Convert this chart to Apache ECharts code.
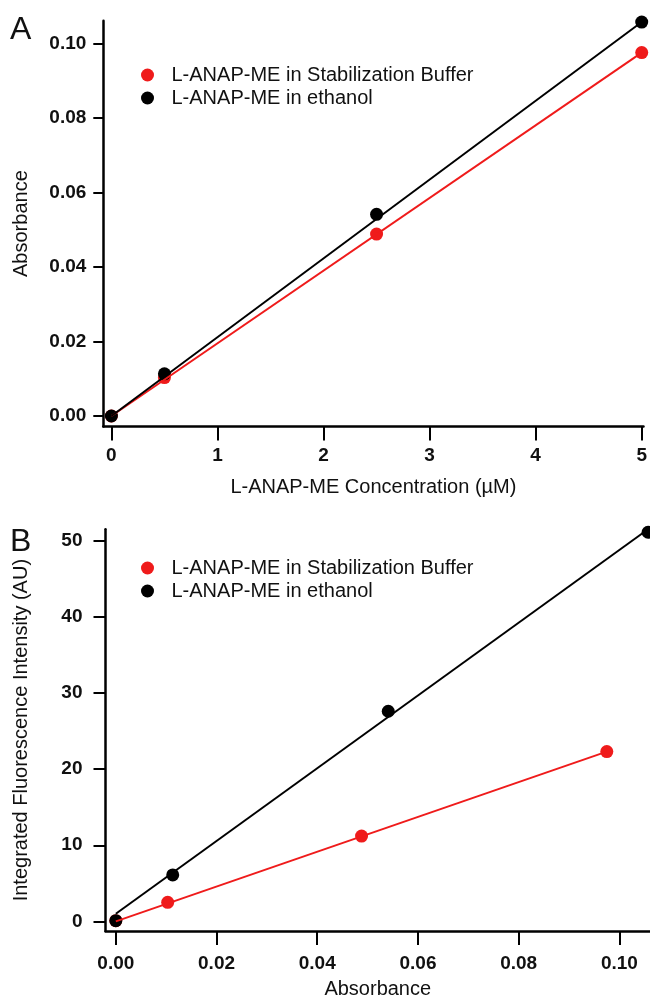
<!DOCTYPE html>
<html>
<head>
<meta charset="utf-8">
<script src="https://cdn.jsdelivr.net/npm/echarts@6/dist/echarts.min.js"></script>
<style>
html,body{margin:0;padding:0;background:#fff;}
#chart{width:650px;height:1000px;}
</style>
</head>
<body>
<div id="chart"></div>
<script>
// ---- Data ----
const seriesNames = ['L-ANAP-ME in Stabilization Buffer', 'L-ANAP-ME in ethanol'];
const concentration = [0, 0.5, 2.5, 5];                 // µM
const absBuffer = [0, 0.0103, 0.0488, 0.0975];          // Absorbance, stabilization buffer
const absEthanol = [0, 0.0113, 0.0541, 0.1057];         // Absorbance, ethanol
const fluorBuffer = [0.1, 2.5, 11.2, 22.3];             // Integrated fluorescence (AU)
const fluorEthanol = [0.1, 6.1, 27.6, 51.1];
// fitted lines (endpoints)
const fitA_bufferX = [0, 5], fitA_bufferY = [0, 0.0975];
const fitA_ethanolX = [0, 5], fitA_ethanolY = [0, 0.1057];
const fitB_bufferX = [0, 0.0975], fitB_bufferY = [0, 22.3];
const fitB_ethanolX = [0, 0.1061], fitB_ethanolY = [1.0, 51.7];
// tick labels
const ticksA_x = [0, 1, 2, 3, 4, 5];
const ticksA_y = [0, 0.02, 0.04, 0.06, 0.08, 0.10];
const ticksB_x = [0, 0.02, 0.04, 0.06, 0.08, 0.10];
const ticksB_y = [0, 10, 20, 30, 40, 50];

const RED = '#ef1b1b';
const BLACK = '#000000';
const FONT = '"Liberation Sans", Arial, sans-serif';

function zip(xs, ys) { return xs.map((x, i) => [x, ys[i]]); }

const tickLabelStyle = { fontFamily: FONT, fontSize: 19, fontWeight: 'bold', color: '#111' };
const nameStyle = { fontFamily: FONT, fontSize: 20, color: '#111' };

function axisBase(extra) {
  return Object.assign({
    type: 'value',
    splitLine: { show: false },
    axisLine: { show: true, onZero: false, lineStyle: { color: '#000', width: 2.5 } },
    nameLocation: 'middle',
    nameTextStyle: nameStyle
  }, extra);
}

const legendBase = {
  data: seriesNames, orient: 'vertical', left: 136, icon: 'circle',
  itemWidth: 38, itemHeight: 13, itemGap: 3, selectedMode: false,
  textStyle: { fontFamily: FONT, fontSize: 20, lineHeight: 20, color: '#111' }
};

const option = {
  animation: false,
  backgroundColor: '#fff',
  grid: [
    { left: 103.3, top: 20.7, width: 546.7, height: 405.8 },
    { left: 105.5, top: 529.3, width: 544.5, height: 404.7 }
  ],
  legend: [
    Object.assign({}, legendBase, { top: 60 }),
    Object.assign({}, legendBase, { top: 553 })
  ],
  xAxis: [
    axisBase({
      gridIndex: 0, min: -0.0764, max: 5.0168,
      name: 'L-ANAP-ME Concentration (µM)', nameGap: 51,
      axisTick: { show: true, inside: false, length: 14, customValues: ticksA_x, lineStyle: { color: '#000', width: 2 } },
      axisLabel: { customValues: ticksA_x, margin: 20, formatter: v => String(Math.round(v)), ...tickLabelStyle }
    }),
    axisBase({
      gridIndex: 1, min: -0.00205, max: 0.10608,
      name: 'Absorbance', nameGap: 48,
      axisTick: { show: true, inside: false, length: 14, customValues: ticksB_x, lineStyle: { color: '#000', width: 2 } },
      axisLabel: { customValues: ticksB_x, margin: 23, formatter: v => v.toFixed(2), ...tickLabelStyle }
    })
  ],
  yAxis: [
    axisBase({
      gridIndex: 0, min: -0.00282, max: 0.10606,
      name: 'Absorbance', nameGap: 72,
      axisTick: { show: true, inside: false, length: 10, customValues: ticksA_y, lineStyle: { color: '#000', width: 2 } },
      axisLabel: { customValues: ticksA_y, margin: 17, formatter: v => v.toFixed(2), ...tickLabelStyle }
    }),
    axisBase({
      gridIndex: 1, min: -1.26, max: 51.49,
      name: 'Integrated Fluorescence Intensity (AU)', nameGap: 74,
      axisTick: { show: true, inside: false, length: 12, customValues: ticksB_y, lineStyle: { color: '#000', width: 2 } },
      axisLabel: { customValues: ticksB_y, margin: 23, formatter: v => String(Math.round(v)), ...tickLabelStyle }
    })
  ],
  graphic: [
    { type: 'text', left: 10, top: 14, style: { text: 'A', fontFamily: FONT, fontSize: 32, fill: '#111' } },
    { type: 'text', left: 10, top: 526, style: { text: 'B', fontFamily: FONT, fontSize: 32, fill: '#111' } }
  ],
  series: [
    // Panel A fit lines
    { name: 'fitA1', type: 'line', xAxisIndex: 0, yAxisIndex: 0, data: zip(fitA_bufferX, fitA_bufferY), showSymbol: false, symbol: 'none', lineStyle: { color: RED, width: 2 }, clip: false, silent: true },
    { name: 'fitA2', type: 'line', xAxisIndex: 0, yAxisIndex: 0, data: zip(fitA_ethanolX, fitA_ethanolY), showSymbol: false, symbol: 'none', lineStyle: { color: BLACK, width: 2 }, clip: false, silent: true },
    // Panel B fit lines
    { name: 'fitB1', type: 'line', xAxisIndex: 1, yAxisIndex: 1, data: zip(fitB_bufferX, fitB_bufferY), showSymbol: false, symbol: 'none', lineStyle: { color: RED, width: 2 }, clip: false, silent: true },
    { name: 'fitB2', type: 'line', xAxisIndex: 1, yAxisIndex: 1, data: zip(fitB_ethanolX, fitB_ethanolY), showSymbol: false, symbol: 'none', lineStyle: { color: BLACK, width: 2 }, clip: false, silent: true },
    // Panel A points
    { name: seriesNames[0], type: 'scatter', xAxisIndex: 0, yAxisIndex: 0, data: zip(concentration, absBuffer), symbolSize: 13, itemStyle: { color: RED, opacity: 1 }, clip: false },
    { name: seriesNames[1], type: 'scatter', xAxisIndex: 0, yAxisIndex: 0, data: zip(concentration, absEthanol), symbolSize: 13, itemStyle: { color: BLACK, opacity: 1 }, clip: false },
    // Panel B points
    { name: seriesNames[0], type: 'scatter', xAxisIndex: 1, yAxisIndex: 1, data: zip(absBuffer, fluorBuffer), symbolSize: 13, itemStyle: { color: RED, opacity: 1 }, clip: false },
    { name: seriesNames[1], type: 'scatter', xAxisIndex: 1, yAxisIndex: 1, data: zip(absEthanol, fluorEthanol), symbolSize: 13, itemStyle: { color: BLACK, opacity: 1 }, clip: false }
  ]
};

const chart = echarts.init(document.getElementById('chart'), null, { renderer: 'canvas' });
chart.setOption(option);
</script>
</body>
</html>
